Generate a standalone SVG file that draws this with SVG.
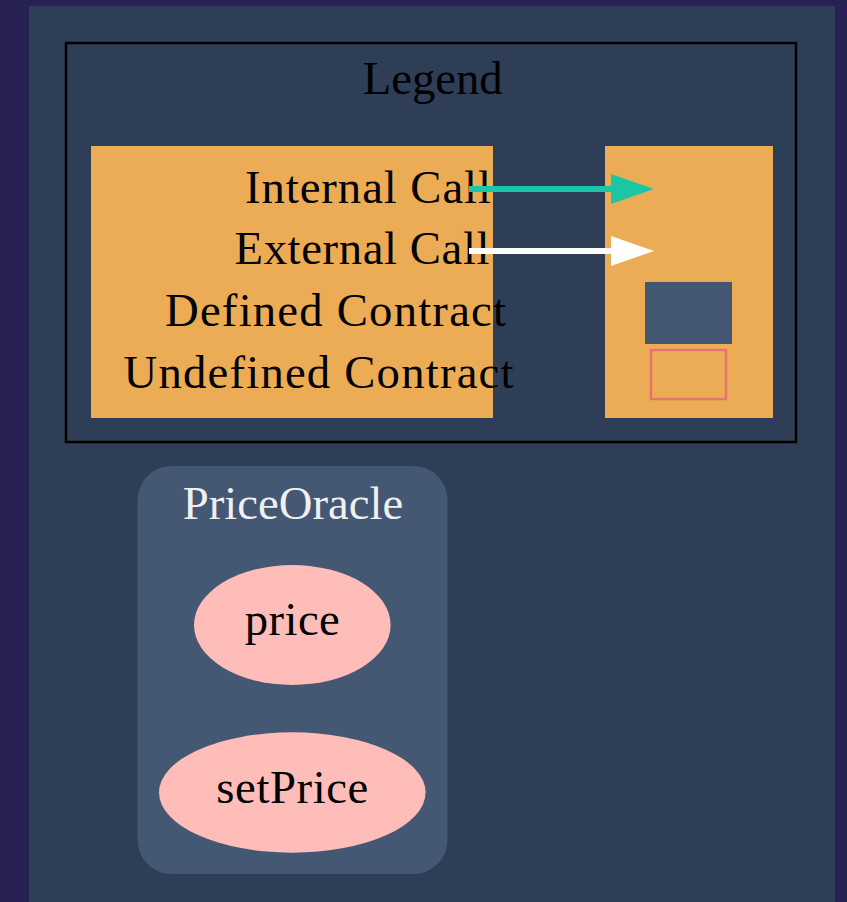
<svg xmlns="http://www.w3.org/2000/svg" width="847" height="902" viewBox="0 0 847 902">
  <style>
    .lbl { font-family: "Liberation Serif", "Times New Roman", serif; font-size: 46.7px; fill: #000000; }
    .cl { font-family: "Liberation Serif", "Times New Roman", serif; font-size: 46.7px; fill: #f0f0f0; text-anchor: middle; }
    .fn { fill: #ffbdb9; stroke: none; }
    .leg { fill: #ecac55; stroke: none; }
  </style>
  <defs>
    <marker id="headTeal" markerUnits="userSpaceOnUse" markerWidth="44" markerHeight="32" refX="1" refY="15" orient="auto">
      <polygon points="0,0 43,15 0,30" fill="#1bc6a6"/>
    </marker>
    <marker id="headWhite" markerUnits="userSpaceOnUse" markerWidth="44" markerHeight="32" refX="1" refY="15" orient="auto">
      <polygon points="0,0 43,15 0,30" fill="#ffffff"/>
    </marker>
  </defs>

  <!-- page background -->
  <rect x="0" y="0" width="847" height="902" fill="#272052"/>
  <rect x="29" y="6" width="806" height="900" fill="#2e3e56"/>

  <!-- legend cluster -->
  <g id="legend">
    <rect x="66" y="43" width="730" height="399" fill="none" stroke="#000000" stroke-width="2.5"/>
    <text class="lbl" x="432.7" y="94" text-anchor="middle">Legend</text>
    <rect class="leg" x="91" y="146" width="402" height="272"/>
    <text class="lbl" x="245" y="202.7" textLength="246" lengthAdjust="spacing">Internal Call</text>
    <text class="lbl" x="234.5" y="264.3" textLength="255" lengthAdjust="spacing">External Call</text>
    <text class="lbl" x="165" y="325.7" textLength="341" lengthAdjust="spacing">Defined Contract</text>
    <text class="lbl" x="123.5" y="387.7" textLength="390" lengthAdjust="spacing">Undefined Contract</text>
    <rect class="leg" x="605" y="146" width="168" height="272"/>
    <rect x="645" y="282" width="87" height="62" fill="#445773"/>
    <rect x="651" y="350" width="75" height="49" fill="none" stroke="#e8726d" stroke-width="2.5"/>
  </g>

  <!-- contract cluster -->
  <g id="PriceOracle">
    <rect x="137.5" y="466" width="310" height="408" rx="34" ry="34" fill="#445773"/>
    <text class="cl" x="293" y="519.3">PriceOracle</text>
  </g>

  <g id="PriceOracle.price">
    <ellipse class="fn" cx="292.3" cy="625" rx="98.3" ry="60"/>
    <text class="lbl" x="292.3" y="635" text-anchor="middle" textLength="95" lengthAdjust="spacing">price</text>
  </g>

  <g id="PriceOracle.setPrice">
    <ellipse class="fn" cx="292.3" cy="792.5" rx="133.3" ry="60.2"/>
    <text class="lbl" x="292.3" y="802.7" text-anchor="middle" textLength="152" lengthAdjust="spacing">setPrice</text>
  </g>

  <!-- connectors -->
  <g id="edges">
    <line x1="469" y1="189" x2="612" y2="189" stroke="#1bc6a6" stroke-width="6" marker-end="url(#headTeal)"/>
    <line x1="469" y1="251" x2="612" y2="251" stroke="#ffffff" stroke-width="6" marker-end="url(#headWhite)"/>
  </g>
</svg>
